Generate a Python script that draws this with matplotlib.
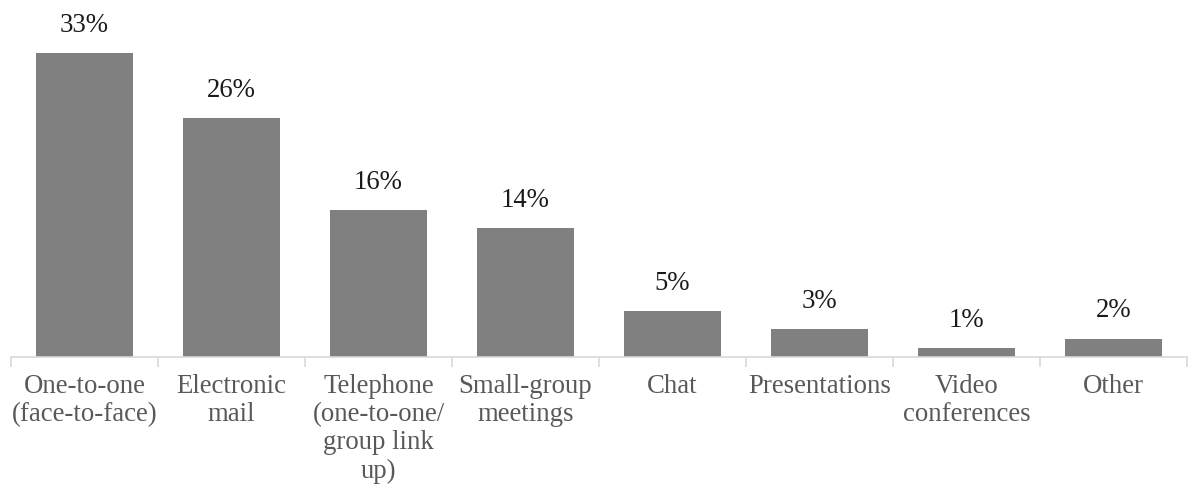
import matplotlib.pyplot as plt
import numpy as np

# Data
categories = ["One-to-one\n(face-to-face)", "Electronic\nmail",
              "Telephone\n(one-to-one/\ngroup link\nup)", "Small-group\nmeetings",
              "Chat", "Presentations", "Video\nconferences", "Other"]
shares = [33, 26, 16, 14, 5, 3, 1, 2]
value_labels = ["33%", "26%", "16%", "14%", "5%", "3%", "1%", "2%"]

plt.rcParams['font.family'] = ['Liberation Serif', 'DejaVu Serif']

W, H = 1192, 494
fig = plt.figure(figsize=(W / 100, H / 100), dpi=100)
ax = fig.add_axes([11 / W, 1 - 357 / H, 1176 / W, 322 / H])

x = np.arange(len(categories))
bars = ax.bar(x, shares, width=0.66, color='#808080', zorder=2)

for b, lab in zip(bars, value_labels):
    ax.annotate(lab, (b.get_x() + b.get_width() / 2, b.get_height()),
                xytext=(0, 11), textcoords='offset points',
                ha='center', va='bottom', fontsize=19.3, color='#1a1a1a')

ax.set_xlim(-0.5, len(categories) - 0.5)
ax.set_ylim(0, 35)

# category labels centred, tick marks on the boundaries
ax.set_xticks(x)
ax.set_xticklabels(categories, fontsize=19.3, color='#595959', linespacing=1.17, va='top')
ax.tick_params(axis='x', which='major', length=0, pad=12)
ax.set_xticks(np.arange(-0.5, len(categories), 1.0), minor=True)
ax.tick_params(axis='x', which='minor', length=7, width=1.2, color='#d9d9d9', direction='out')
ax.set_yticks([])

for s in ['top', 'right', 'left']:
    ax.spines[s].set_visible(False)
ax.spines['bottom'].set_color('#d9d9d9')
ax.spines['bottom'].set_linewidth(1.2)

plt.savefig("out.png", dpi=100)
